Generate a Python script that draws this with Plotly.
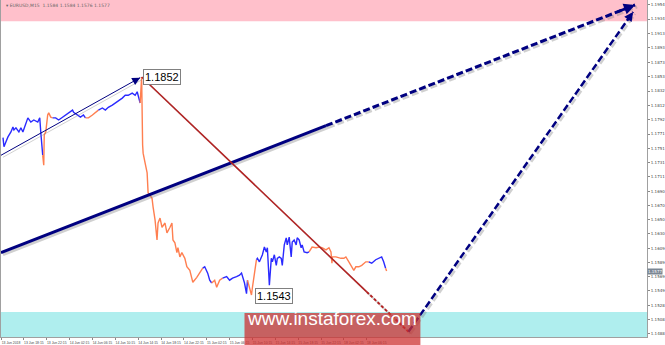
import plotly.graph_objects as go

# ---------------- data (hours since chart start, price) ----------------
hours = [0.35, 0.52, 0.87, 1.22, 1.74, 2.09, 2.26, 2.61, 3.13, 3.48, 3.83, 4.35, 4.70, 5.22, 5.74, 6.43, 6.78, 6.96, 7.13,
         7.30, 7.48, 7.57, 7.83, 8.17, 8.35, 8.70,
         9.04, 9.57, 10.09, 10.78, 11.30, 11.83, 12.52, 12.70, 13.39, 13.91, 14.43,
         14.78, 15.30, 16.00, 16.52,
         17.04, 17.74, 18.26, 18.78, 19.48, 20.00, 20.52, 21.22, 21.74, 22.26, 22.96, 23.48, 23.83,
         24.35, 24.61, 24.78, 24.87, 25.22, 25.57, 25.74, 26.43, 26.61, 26.96, 27.30, 27.48, 27.83, 28.17, 28.70,
         29.04, 29.57, 29.91, 30.09, 30.43, 30.78, 30.96, 31.30, 31.65, 32.17, 32.52, 33.04, 33.57, 34.26, 34.78,
         35.30, 35.65, 36.17, 36.52,
         36.87, 37.39, 37.74, 38.26,
         38.78, 39.48, 40.00, 40.52, 41.22, 41.74, 42.09, 42.26, 42.61, 42.96,
         43.13, 43.48, 43.83, 44.00, 44.35,
         44.70, 44.87, 45.22, 45.74, 46.09, 46.43, 46.61, 46.96, 47.30, 47.48, 47.83, 48.17, 48.35, 48.70, 49.04,
         49.22, 49.57, 49.91, 50.09, 50.43, 50.78, 50.96, 51.30, 51.65, 51.83, 52.17, 52.52, 52.70, 53.04, 53.57,
         53.91, 54.43, 55.13, 55.65, 56.17, 56.87, 57.39, 57.74, 57.91, 58.00, 58.61, 59.48, 60.00, 60.35, 60.87,
         61.39, 61.74, 62.09, 62.61, 63.13, 63.83,
         64.35, 64.87, 65.57, 66.09, 66.61, 66.96,
         67.30, 67.48]

closes = [1.1766, 1.1753, 1.1760, 1.1767, 1.1774, 1.1781, 1.1777, 1.1780, 1.1774, 1.1780, 1.1774, 1.1787, 1.1794, 1.1788, 1.1791, 1.1788, 1.1794, 1.1774, 1.1756,
          1.1741, 1.1727, 1.1770, 1.1774, 1.1798, 1.1801, 1.1795,
          1.1794, 1.1794, 1.1791, 1.1795, 1.1798, 1.1801, 1.1805, 1.1802, 1.1798, 1.1795, 1.1798,
          1.1794, 1.1794, 1.1798, 1.1801,
          1.1805, 1.1808, 1.1805, 1.1809, 1.1812, 1.1815, 1.1817, 1.1822, 1.1826, 1.1826, 1.1829, 1.1826, 1.1831,
          1.1815, 1.1852, 1.1756, 1.1744, 1.1730, 1.1716, 1.1688, 1.1680, 1.1668, 1.1649, 1.1621, 1.1645, 1.1652, 1.1639, 1.1645,
          1.1631, 1.1639, 1.1645, 1.1621, 1.1617, 1.1603, 1.1610, 1.1597, 1.1603, 1.1595, 1.1583, 1.1578, 1.1561, 1.1568, 1.1574,
          1.1581, 1.1583, 1.1574, 1.1564,
          1.1560, 1.1564, 1.1554, 1.1564,
          1.1567, 1.1569, 1.1564, 1.1567, 1.1569, 1.1571, 1.1574, 1.1569, 1.1560, 1.1545,
          1.1564, 1.1554, 1.1543, 1.1554, 1.1574,
          1.1593, 1.1595, 1.1590, 1.1600, 1.1611, 1.1604, 1.1610, 1.1557, 1.1595, 1.1590, 1.1600, 1.1585, 1.1595, 1.1597, 1.1595,
          1.1585, 1.1614, 1.1624, 1.1614, 1.1625, 1.1597, 1.1618, 1.1621, 1.1614, 1.1624, 1.1621, 1.1610, 1.1614, 1.1604, 1.1603,
          1.1604, 1.1611, 1.1610, 1.1611, 1.1610, 1.1607, 1.1610, 1.1604, 1.1588, 1.1597, 1.1597, 1.1595, 1.1595, 1.1597, 1.1590,
          1.1583, 1.1578, 1.1583, 1.1583, 1.1585, 1.1590,
          1.1590, 1.1588, 1.1593, 1.1595, 1.1597, 1.1590,
          1.1581, 1.1577]

# number of points in each swing leg (legs alternate up / down)
leg_lengths = [19, 7, 11, 4, 13, 30, 4, 4, 10, 5, 30, 21, 6, 2]

# wave markup (hours, price)
minor_wave_h = [0.0, 24.35]
minor_wave_p = [1.1741, 1.1851]
trend_h = [0.0, 110.96]
trend_p = [1.1603, 1.1954]
trend_dash_from_h = 56.87
down_leg_h = [24.61, 71.30]
down_leg_p = [1.1852, 1.1491]
down_dash_from_h = 64.0
forecast_h = [71.30, 110.61]
forecast_p = [1.1491, 1.1944]

resistance_zone = [1.1931, 1.1961]
support_zone = [1.14835, 1.1519]

high_label = "1.1852"
low_label = "1.1543"
last_price = 1.1577
header = "\u25be EURUSD,M15  1.1584 1.1584 1.1576 1.1577"

price_ticks = ["1.1954", "1.1934", "1.1913", "1.1893", "1.1873", "1.1853", "1.1832", "1.1812",
               "1.1792", "1.1771", "1.1751", "1.1731", "1.1711", "1.1690", "1.1670", "1.1650",
               "1.1630", "1.1609", "1.1589", "1.1569", "1.1549", "1.1528", "1.1508", "1.1488"]
time_ticks = ["13 Jun 2018", "13 Jun 18:15", "13 Jun 22:15", "14 Jun 02:15", "14 Jun 06:15",
              "14 Jun 10:15", "14 Jun 14:15", "14 Jun 18:15", "14 Jun 22:15", "15 Jun 02:15",
              "15 Jun 06:15", "15 Jun 10:15", "15 Jun 14:15", "15 Jun 18:15", "15 Jun 22:15",
              "18 Jun 02:15", "18 Jun 06:15"]
time_tick_step = 4

# ---------------- styling ----------------
W, H = 665, 345
M = dict(l=0, r=15, t=0, b=8)
plot_w = W - M["l"] - M["r"]
plot_h = H - M["t"] - M["b"]
x_range = [0, 113.04]
y_range = [support_zone[0], resistance_zone[1]]
UP, DOWN = "#2a2aff", "#ff7f50"
NAVY, RED = "#000080", "#b22222"
SHADOW = "rgba(120,120,120,0.35)"
sdx = 2 * (x_range[1] - x_range[0]) / plot_w
sdy = -2 * (y_range[1] - y_range[0]) / plot_h

fig = go.Figure()


def interp(h0, p0, h1, p1, h):
    return p0 + (p1 - p0) * (h - h0) / (h1 - h0)


def seg(xs, ys, color, width, dash="solid", shadow=True):
    if shadow:
        fig.add_trace(go.Scatter(x=[v + sdx for v in xs], y=[v + sdy for v in ys], mode="lines",
                                 line=dict(color=SHADOW, width=width, dash=dash),
                                 hoverinfo="skip", showlegend=False))
    fig.add_trace(go.Scatter(x=xs, y=ys, mode="lines", line=dict(color=color, width=width, dash=dash),
                             hoverinfo="skip", showlegend=False))


# price line, coloured by swing leg
start = 0
for i, n in enumerate(leg_lengths):
    end = min(start + n + 1, len(hours))
    fig.add_trace(go.Scatter(x=hours[start:end], y=closes[start:end], mode="lines",
                             line=dict(color=UP if i % 2 == 0 else DOWN, width=1.4),
                             hoverinfo="skip", showlegend=False))
    start += n

# thin wave line
seg(minor_wave_h, minor_wave_p, NAVY, 1)
# major trend line: solid then dashed
mid_p = interp(trend_h[0], trend_p[0], trend_h[1], trend_p[1], trend_dash_from_h)
seg([trend_h[0], trend_dash_from_h], [trend_p[0], mid_p], NAVY, 3)
seg([trend_dash_from_h, trend_h[1]], [mid_p, trend_p[1]], NAVY, 3, dash="7px,3px")
# red down leg: solid then dashed
mid_r = interp(down_leg_h[0], down_leg_p[0], down_leg_h[1], down_leg_p[1], down_dash_from_h)
seg([down_leg_h[0], down_dash_from_h], [down_leg_p[0], mid_r], RED, 1.5)
seg([down_dash_from_h, down_leg_h[1]], [mid_r, down_leg_p[1]], RED, 2, dash="3px,2px")
# forecast leg
seg(forecast_h, forecast_p, NAVY, 2.5, dash="7px,3px")


def arrow(h0, p0, h1, p1, width, size):
    back = 0.03
    fig.add_annotation(x=h1, y=p1, ax=h1 - (h1 - h0) * back, ay=p1 - (p1 - p0) * back,
                       xref="x", yref="y", axref="x", ayref="y", showarrow=True, text="",
                       arrowhead=2, arrowwidth=width, arrowsize=size, arrowcolor=NAVY)


arrow(minor_wave_h[0], minor_wave_p[0], minor_wave_h[1], minor_wave_p[1], 1, 1.6)
arrow(trend_h[0], trend_p[0], trend_h[1], trend_p[1], 2.5, 0.9)
arrow(forecast_h[0], forecast_p[0], forecast_h[1], forecast_p[1], 2, 0.9)

# zones
fig.add_shape(type="rect", xref="paper", x0=0, x1=1, yref="y", y0=resistance_zone[0], y1=resistance_zone[1],
              fillcolor="#ffc0cb", line_width=0, layer="below")
fig.add_shape(type="rect", xref="paper", x0=0, x1=1, yref="y", y0=support_zone[0], y1=support_zone[1],
              fillcolor="#afeeee", line_width=0, layer="below")

# wave labels
fig.add_annotation(x=24.9, y=1.1852, xref="x", yref="y", text=high_label, showarrow=False, xanchor="left",
                   font=dict(family="Liberation Sans, Arial", size=11, color="black"),
                   bgcolor="white", bordercolor="#808080", borderwidth=1, borderpad=1)
fig.add_annotation(x=44.5, y=1.1542, xref="x", yref="y", text=low_label, showarrow=False, xanchor="left",
                   font=dict(family="Liberation Sans, Arial", size=11, color="black"),
                   bgcolor="white", bordercolor="#808080", borderwidth=1, borderpad=1)

# header
fig.add_annotation(x=0.004, y=0.997, xref="paper", yref="paper", text=header, showarrow=False,
                   xanchor="left", yanchor="top", font=dict(family="DejaVu Sans", size=4.5, color="#666"))
# last price marker
fig.add_annotation(x=1, y=last_price, xref="paper", yref="y", text=f"{last_price:.4f}", showarrow=False,
                   xanchor="left", font=dict(family="DejaVu Sans", size=4, color="white"),
                   bgcolor="#7b8794", borderpad=0)

# watermark
fig.add_shape(type="rect", xref="paper", yref="paper", x0=245 / plot_w, x1=422 / plot_w,
              y0=-(H - plot_h) / plot_h, y1=(plot_h - 313) / plot_h,
              fillcolor="rgba(205,50,50,0.75)", line_width=0, layer="above")
fig.add_annotation(x=333.5 / plot_w, y=(plot_h - 331) / plot_h, xref="paper", yref="paper",
                   text="www.instaforex.com", showarrow=False,
                   font=dict(family="Liberation Sans, Arial", size=19, color="white"))

fig.update_layout(
    width=W, height=H, margin=M, paper_bgcolor="white", plot_bgcolor="white", showlegend=False,
    xaxis=dict(range=x_range, showgrid=False, zeroline=False,
               tickvals=[i * time_tick_step for i in range(len(time_ticks))], ticktext=time_ticks,
               ticks="outside", ticklen=2, tickcolor="#888", ticklabelshift=10, tickangle=0,
               tickfont=dict(family="Liberation Sans Narrow, Liberation Sans, Arial", size=3.4, color="#444"),
               showline=True, linecolor="#a0a0a0", linewidth=1),
    yaxis=dict(range=y_range, side="right", showgrid=False, zeroline=False,
               tickvals=[float(t) for t in price_ticks], ticktext=price_ticks,
               ticks="outside", ticklen=2, tickcolor="#888",
               tickfont=dict(family="DejaVu Sans", size=4, color="#444"),
               showline=True, linecolor="#a0a0a0", linewidth=1, mirror=True),
)

fig.write_html("out.html")
